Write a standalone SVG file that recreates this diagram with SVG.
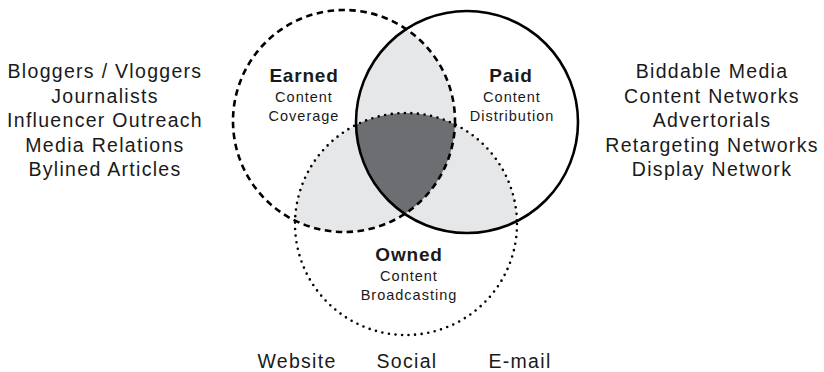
<svg xmlns="http://www.w3.org/2000/svg" width="824" height="372" viewBox="0 0 824 372">
  <style>
    .side { font-family: "Liberation Sans", Arial, sans-serif; font-size: 19.5px; letter-spacing: 1.3px; fill: #1a1a1a; text-anchor: middle; }
    .title { font-family: "Liberation Sans", Arial, sans-serif; font-size: 19px; font-weight: bold; letter-spacing: 0.8px; fill: #1a1a1a; text-anchor: middle; }
    .sub { font-family: "Liberation Sans", Arial, sans-serif; font-size: 14.5px; letter-spacing: 1px; fill: #1a1a1a; text-anchor: middle; }
    .light { fill: #e6e7e8; }
    .dark { fill: #6d6e71; }
    .ring { fill: none; stroke: #000; stroke-width: 2.6; }
  </style>
  <defs>
    <clipPath id="clipEarned"><circle cx="344" cy="121" r="111"/></clipPath>
    <clipPath id="clipPaid"><circle cx="467" cy="122" r="111"/></clipPath>
    <clipPath id="clipOwned"><circle cx="406" cy="224" r="111"/></clipPath>
  </defs>
  <rect width="824" height="372" fill="#fff"/>

  <g id="overlaps">
    <circle class="light" cx="344" cy="121" r="111" clip-path="url(#clipPaid)"/>
    <circle class="light" cx="344" cy="121" r="111" clip-path="url(#clipOwned)"/>
    <circle class="light" cx="467" cy="122" r="111" clip-path="url(#clipOwned)"/>
    <g clip-path="url(#clipOwned)">
      <circle class="dark" cx="344" cy="121" r="111" clip-path="url(#clipPaid)"/>
    </g>
  </g>

  <g id="earned">
    <circle class="ring" cx="344" cy="121" r="111" stroke-dasharray="6.5 4.5"/>
    <text class="title" x="304" y="82">Earned</text>
    <text class="sub" x="304" y="101.5">Content</text>
    <text class="sub" x="304" y="120.5">Coverage</text>
  </g>

  <g id="paid">
    <circle class="ring" cx="467" cy="122" r="111"/>
    <text class="title" x="511" y="82">Paid</text>
    <text class="sub" x="512" y="101.5">Content</text>
    <text class="sub" x="512" y="120.5">Distribution</text>
  </g>

  <g id="owned">
    <circle class="ring" cx="406" cy="224" r="111" stroke-width="3.2" stroke-linecap="round" stroke-dasharray="0 6.6"/>
    <text class="title" x="409" y="260.5">Owned</text>
    <text class="sub" x="409" y="280.5">Content</text>
    <text class="sub" x="409" y="300">Broadcasting</text>
  </g>

  <g id="earned-list">
    <text class="side" x="105" y="78">Bloggers / Vloggers</text>
    <text class="side" x="105" y="102.5">Journalists</text>
    <text class="side" x="105" y="127">Influencer Outreach</text>
    <text class="side" x="105" y="151.5">Media Relations</text>
    <text class="side" x="105" y="176">Bylined Articles</text>
  </g>

  <g id="paid-list">
    <text class="side" x="712" y="78">Biddable Media</text>
    <text class="side" x="712" y="102.5">Content Networks</text>
    <text class="side" x="712" y="127">Advertorials</text>
    <text class="side" x="712" y="151.5">Retargeting Networks</text>
    <text class="side" x="712" y="176">Display Network</text>
  </g>

  <g id="owned-list">
    <text class="side" x="297" y="368">Website</text>
    <text class="side" x="407" y="368">Social</text>
    <text class="side" x="520" y="368">E-mail</text>
  </g>

  <g id="connectors"></g>
</svg>
